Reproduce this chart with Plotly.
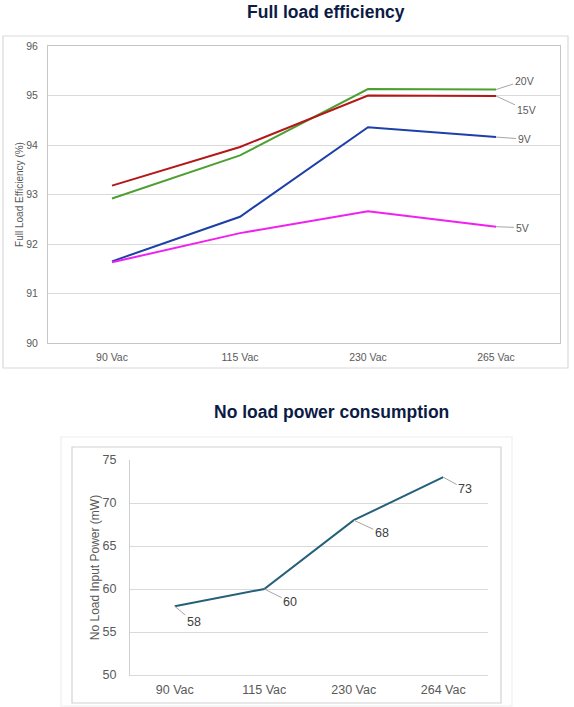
import plotly.graph_objects as go

W, H = 574, 707

# Full load efficiency data
eff_cats = ["90 Vac", "115 Vac", "230 Vac", "265 Vac"]
eff_20v = [92.92, 93.79, 95.13, 95.12]
eff_15v = [93.18, 93.96, 95.00, 94.99]
eff_9v = [91.65, 92.55, 94.36, 94.16]
eff_5v = [91.63, 92.22, 92.66, 92.35]
eff_names = ["20V", "15V", "9V", "5V"]

# No load power data
nl_cats = ["90 Vac", "115 Vac", "230 Vac", "264 Vac"]
nl_power = [58, 60, 68, 73]

FONT = "Liberation Sans, Arial, sans-serif"
TICK = "#595959"


def px(x, y):
    # screen pixel -> paper coords (margins are zero)
    return x / W, 1 - y / H


fig = go.Figure()

eff_series = [eff_20v, eff_15v, eff_9v, eff_5v]
colors = ["#4E9F32", "#B31717", "#1C3FA8", "#F020F0"]
for name, vals, c in zip(eff_names, eff_series, colors):
    fig.add_trace(go.Scatter(x=eff_cats, y=vals, name=name, mode="lines",
                             line=dict(color=c, width=2), xaxis="x", yaxis="y"))

fig.add_trace(go.Scatter(x=nl_cats, y=nl_power, name="No load", mode="lines",
                         line=dict(color="#25607A", width=2), xaxis="x2", yaxis="y2"))

x0, y1 = px(48, 46)
x1, y0 = px(560, 343)
bx0, by1 = px(130, 460)
bx1, by0 = px(488, 675)

fig.update_layout(
    width=W, height=H, showlegend=False,
    margin=dict(l=0, r=0, t=0, b=0),
    paper_bgcolor="white", plot_bgcolor="white",
    font=dict(family=FONT, color=TICK),
    xaxis=dict(domain=[x0, x1], type="category", range=[-0.5, 3.5], anchor="y",
               automargin=False,
               showgrid=False, showline=True, mirror=True, linecolor="#c6c6c6",
               ticks="", tickfont=dict(size=10.5, color=TICK), ticklabelstandoff=4),
    yaxis=dict(domain=[y0, y1], range=[90, 96], dtick=1, anchor="x",
               automargin=False,
               showgrid=True, gridcolor="#d9d9d9", zeroline=False,
               showline=True, mirror=True, linecolor="#c6c6c6",
               ticks="", tickfont=dict(size=10.5, color=TICK), ticklabelstandoff=7,
               title=dict(text="Full Load Efficiency (%)", font=dict(size=10, color=TICK), standoff=0)),
    xaxis2=dict(domain=[bx0, bx1], type="category", range=[-0.5, 3.5], anchor="y2",
                automargin=False,
                showgrid=False, showline=True, linecolor="#d9d9d9",
                ticks="", tickfont=dict(size=12.5, color=TICK), ticklabelstandoff=3),
    yaxis2=dict(domain=[by0, by1], range=[50, 75], dtick=5, anchor="x2",
                automargin=False,
                showgrid=True, gridcolor="#d9d9d9", zeroline=False,
                showline=True, linecolor="#d0d0d0",
                ticks="", tickfont=dict(size=12.5, color=TICK), ticklabelstandoff=10,
                title=dict(text="No Load Input Power (mW)", font=dict(size=12, color=TICK), standoff=0)),
)

# frames around the two charts
shapes = [
    ((3, 36, 568, 368), "#d9d9d9"),
    ((61, 437, 512, 706), "#eeeeee"),
    ((72, 447, 501, 703), "#d2d2d2"),
]
for (a, b, c, d), col in shapes:
    p0 = px(a, b)
    p1 = px(c, d)
    fig.add_shape(type="rect", xref="paper", yref="paper",
                  x0=p0[0], y0=p1[1], x1=p1[0], y1=p0[1],
                  line=dict(color=col, width=1.2), fillcolor="rgba(0,0,0,0)", layer="below")

# titles
for text, (tx, ty) in [("Full load efficiency", (326, 12)), ("No load power consumption", (331, 412))]:
    ax_, ay_ = px(tx, ty)
    fig.add_annotation(text="<b>%s</b>" % text, xref="paper", yref="paper", x=ax_, y=ay_,
                       xanchor="center", yanchor="middle",
                       showarrow=False, font=dict(size=17.5, color="#0B1B45", family=FONT))

# series labels with leader lines
offsets = [(28, -9), (30, 14), (28, 2), (26, 1)]
for name, vals, (ox, oy) in zip(eff_names, eff_series, offsets):
    fig.add_annotation(x=eff_cats[-1], y=vals[-1], xref="x", yref="y", text=name,
                       showarrow=True, arrowhead=0, arrowwidth=1, arrowcolor="#a6a6a6",
                       ax=ox, ay=oy, font=dict(size=10.5, color=TICK))

nl_offsets = [(19, 16), (26, 13), (28, 13), (22, 12)]
for cat, v, (ox, oy) in zip(nl_cats, nl_power, nl_offsets):
    fig.add_annotation(x=cat, y=v, xref="x2", yref="y2", text=str(v),
                       showarrow=True, arrowhead=0, arrowwidth=1, arrowcolor="#a6a6a6",
                       ax=ox, ay=oy, font=dict(size=12.5, color="#404040"))

# drop the default body margin so the figure sits at the page corner
fig.write_html("out.html", config={"displayModeBar": False},
               post_script="document.body.style.margin='0px';")
